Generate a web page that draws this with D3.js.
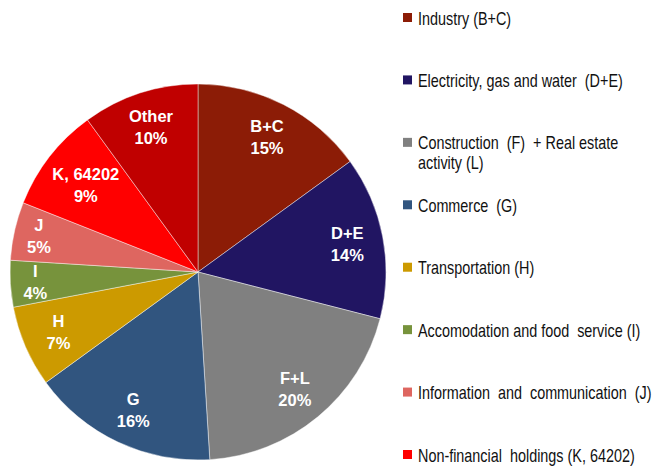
<!DOCTYPE html>
<html>
<head>
<meta charset="utf-8">
<script src="https://cdn.jsdelivr.net/npm/d3@7"></script>
<style>
  html, body { margin: 0; padding: 0; background: #ffffff; }
  svg { display: block; }
  .legend text { white-space: pre; }
</style>
</head>
<body>
<svg id="chart" width="659" height="468"></svg>
<script>
// Share of firms by sector (percent), clockwise from 12 o'clock
const codes = ["B+C", "D+E", "F+L", "G", "H", "I", "J", "K, 64202", "Other"];
const shares = [15, 14, 20, 16, 7, 4, 5, 9, 10];
const colors = ["#8C1C06", "#211562", "#808080", "#31557F", "#CC9A00", "#77933C", "#DE6660", "#FF0000", "#C00000"];

// Legend entries (the "Other" slice has no legend entry)
const legendNames = [
  ["Industry (B+C)"],
  ["Electricity, gas and water  (D+E)"],
  ["Construction  (F)  + Real estate", "activity (L)"],
  ["Commerce  (G)"],
  ["Transportation (H)"],
  ["Accomodation and food  service (I)"],
  ["Information  and  communication  (J)"],
  ["Non-financial  holdings (K, 64202)"]
];

const svg = d3.select("#chart");
const cx = 198, cy = 272, radius = 188;

const pie = d3.pie().sort(null).value(d => d.value);
const data = codes.map((c, i) => ({ code: c, value: shares[i], color: colors[i] }));
const arcs = pie(data);

const arc = d3.arc().innerRadius(0).outerRadius(radius);

const g = svg.append("g").attr("transform", `translate(${cx},${cy})`);

g.selectAll("path.slice")
  .data(arcs)
  .join("path")
  .attr("class", "slice")
  .attr("d", arc)
  .attr("fill", d => d.data.color)
  .attr("stroke", "rgba(255,255,255,0.55)")
  .attr("stroke-width", 0.8);

// Labels sit inside each slice; narrow slices get pushed a bit outward
const labelRadius = d => (d.data.value <= 5 ? 163 : d.data.code.length > 5 ? 142 : 152);
const labels = g.selectAll("text.lbl")
  .data(arcs)
  .join("text")
  .attr("class", "lbl")
  .attr("transform", d => {
    const a = (d.startAngle + d.endAngle) / 2;
    const r = labelRadius(d);
    return `translate(${Math.sin(a) * r},${-Math.cos(a) * r})`;
  })
  .attr("text-anchor", "middle")
  .attr("fill", "#ffffff")
  .attr("font-family", "'Liberation Sans', Arial, sans-serif")
  .attr("font-weight", "bold")
  .attr("font-size", 16.5);

labels.append("tspan")
  .attr("x", 0)
  .attr("y", -5)
  .text(d => d.data.code);
labels.append("tspan")
  .attr("x", 0)
  .attr("y", 17)
  .text(d => d.data.value + "%");

// Legend
const legend = svg.append("g").attr("class", "legend").attr("transform", "translate(403,0)");
const slotY = d3.scaleLinear().domain([0, 7]).range([18, 455]);

const items = legend.selectAll("g.item")
  .data(legendNames)
  .join("g")
  .attr("class", "item")
  .attr("transform", (d, i) => `translate(0,${slotY(i)})`);

items.append("rect")
  .attr("x", 0)
  .attr("y", -5)
  .attr("width", 9)
  .attr("height", 9)
  .attr("fill", (d, i) => colors[i]);

const lt = items.append("text")
  .attr("transform", "translate(15,0) scale(0.8,1)")
  .attr("font-family", "'Liberation Sans', Arial, sans-serif")
  .attr("font-size", 18)
  .attr("fill", "#111111");

lt.selectAll("tspan")
  .data(d => d)
  .join("tspan")
  .attr("x", 0)
  .attr("y", (d, j) => 6.5 + j * 20)
  .text(d => d);
</script>
</body>
</html>
